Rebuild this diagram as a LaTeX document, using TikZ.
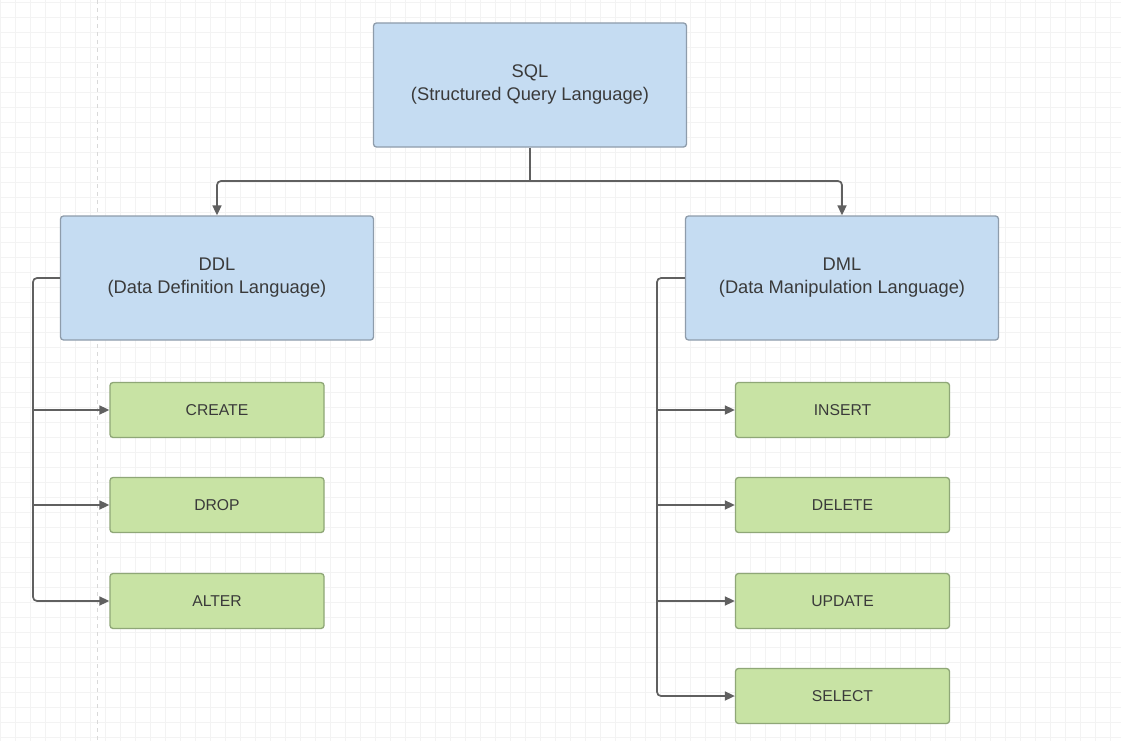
\documentclass[tikz,border=0pt]{standalone}
\usepackage{fontspec}
\setmainfont{Liberation Sans}
\usetikzlibrary{arrows.meta}
\definecolor{bluefill}{HTML}{C5DCF2}
\definecolor{blueline}{HTML}{8E9CAB}
\definecolor{greenfill}{HTML}{C8E3A4}
\definecolor{greenline}{HTML}{8FA777}
\definecolor{txt}{HTML}{3A3A3A}
\definecolor{conncol}{HTML}{606060}
\definecolor{gridcol}{HTML}{F3F3F3}
\tikzset{
  bigbox/.style={draw=blueline, fill=bluefill, line width=1.3pt, rounded corners=3pt,
    minimum width=313pt, minimum height=124pt, inner sep=0pt, align=center,
    text=txt, font=\fontsize{18.3}{23}\selectfont},
  cmdbox/.style={draw=greenline, fill=greenfill, line width=1.3pt, rounded corners=3pt,
    minimum width=214pt, minimum height=55pt, inner sep=0pt, align=center,
    text=txt, font=\fontsize{15.7}{18}\selectfont},
  conn/.style={draw=conncol, line width=1.7pt, rounded corners=4pt},
  arr/.style={conn, -{Triangle[length=10pt,width=9pt]}},
  gridline/.style={draw=gridcol, line width=0.8pt},
}
\begin{document}
\begin{tikzpicture}[x=1pt,y=-1pt]
\useasboundingbox (0,0) rectangle (1121,741);
\fill[white] (0,0) rectangle (1121,741);
\foreach \gx in {0,15,...,1121} {\draw[gridline] (\gx,0) -- (\gx,741);}
\foreach \gy in {2,17,...,741} {\draw[gridline] (0,\gy) -- (1121,\gy);}
\draw[gray!30, line width=1pt, dash pattern=on 4pt off 4pt] (97,0) -- (97,741);

\node[bigbox] (sql) at (530,85) {SQL\\(Structured Query Language)};
\node[bigbox] (ddl) at (217,278) {DDL\\(Data Definition Language)};
\node[bigbox] (dml) at (842,278) {DML\\(Data Manipulation Language)};

\node[cmdbox] (create) at (217,410) {CREATE};
\node[cmdbox] (drop)   at (217,505) {DROP};
\node[cmdbox] (alter)  at (217,601) {ALTER};

\node[cmdbox] (insert) at (842.5,410) {INSERT};
\node[cmdbox] (delete) at (842.5,505) {DELETE};
\node[cmdbox] (update) at (842.5,601) {UPDATE};
\node[cmdbox] (select) at (842.5,696) {SELECT};

\coordinate (mid) at (530,181);
\coordinate (lt) at (33,0);
\coordinate (rt) at (657,0);

\draw[conn] (sql.south) -- (mid);
\draw[arr] (mid) -| (ddl.north);
\draw[arr] (mid) -| (dml.north);

\draw[arr] (ddl.west) -| (lt |- alter.west) -- (alter.west);
\draw[arr] (lt |- create.west) -- (create.west);
\draw[arr] (lt |- drop.west) -- (drop.west);

\draw[arr] (dml.west) -| (rt |- select.west) -- (select.west);
\draw[arr] (rt |- insert.west) -- (insert.west);
\draw[arr] (rt |- delete.west) -- (delete.west);
\draw[arr] (rt |- update.west) -- (update.west);
\end{tikzpicture}
\end{document}
